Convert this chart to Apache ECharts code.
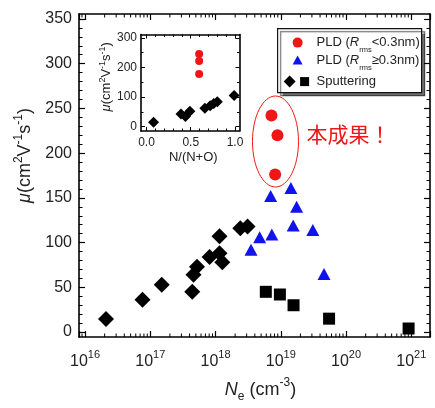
<!DOCTYPE html>
<html>
<head>
<meta charset="utf-8">
<script src="https://cdn.jsdelivr.net/npm/echarts@6/dist/echarts.min.js"></script>
<style>
html, body { margin: 0; padding: 0; background: #fff; }
#chart { width: 435px; height: 408px; }
</style>
</head>
<body>
<div id="chart"></div>
<script>
// main plot: Ne (cm^-3) vs mobility (cm2/Vs)
var pldLowNe = [7.2e18, 8.9e18, 8.2e18];
var pldLowMu = [242, 220, 176];
var pldHighNe = [3.5e18, 4.75e18, 7.3e18, 7.0e18, 1.43e19, 1.75e19, 1.55e19, 3.1e19, 4.6e19];
var pldHighMu = [92, 106, 109, 152, 161, 140, 119, 114, 65];
var sputDiaNe = [2.1e16, 7.6e16, 1.5e17, 4.4e17, 4.6e17, 5.2e17, 8.1e17, 1.15e18, 1.15e18, 1.27e18, 2.4e18, 3.1e18];
var sputDiaMu = [14.5, 36, 53, 45, 64, 73, 84, 107, 88, 78, 116, 118];
var sputSqNe = [5.9e18, 9.7e18, 1.57e19, 5.5e19, 9.1e20];
var sputSqMu = [45, 42, 30, 15, 4];

// inset: N/(N+O) vs mobility
var insetSputX = [0.08, 0.39, 0.44, 0.49, 0.66, 0.72, 0.76, 0.80, 0.99];
var insetSputMu = [15, 43, 34, 52, 62, 71, 78, 84, 105];
var insetPldX = [0.595, 0.595, 0.595];
var insetPldMu = [245, 222, 178];

// annotation anchor (centre of the red ellipse)
var noteNe = [8.3e18];
var noteMu = [213];
var noteText = '本成果！';

// ticks
var xDecades = [16, 17, 18, 19, 20, 21];
var xMinorFactors = [2, 3, 4, 5, 6, 7, 8, 9];
var yMajor = [0, 50, 100, 150, 200, 250, 300, 350];
var yMinor = [10, 20, 30, 40, 60, 70, 80, 90, 110, 120, 130, 140, 160, 170, 180, 190,
  210, 220, 230, 240, 260, 270, 280, 290, 310, 320, 330, 340];
var insetXMajor = [0, 0.5, 1.0];
var insetXMinor = [0.1, 0.2, 0.3, 0.4, 0.6, 0.7, 0.8, 0.9];
var insetYMajor = [0, 100, 200, 300];
var insetYMinor = [50, 150, 250];

var X_MIN = Math.pow(10, 15.908), X_MAX = Math.pow(10, 21.287);
var Y_MIN = -5.5, Y_MAX = 355.5;
var RED = '#f01616', BLUE = '#1212ea', INK = '#222';
var FONT = 'Liberation Sans';

function pairs(xs, ys) {
  return xs.map(function (x, i) { return [x, ys[i]]; });
}

// minor tick positions on the log axis, only those inside the range
var xMinorTicks = [];
[15].concat(xDecades).forEach(function (d) {
  xMinorFactors.forEach(function (f) {
    var v = f * Math.pow(10, d);
    if (v > X_MIN && v < X_MAX) xMinorTicks.push([v, 0]);
  });
});

var axisLineStyle = { show: true, onZero: false, lineStyle: { color: '#000', width: 1.6 } };
var noLine = { show: false, onZero: false };

function tickAxis(opt) {
  var a = {
    splitLine: { show: false },
    minorTick: { show: false },
    axisLine: opt.line ? axisLineStyle : noLine,
    axisTick: {
      show: true, inside: true, length: opt.len,
      lineStyle: { color: '#000', width: opt.len > 4 ? 1.2 : 1 }
    },
    axisLabel: { show: false }
  };
  if (opt.ticks) a.axisTick.customValues = opt.ticks;
  delete opt.line; delete opt.len; delete opt.ticks;
  for (var k in opt) a[k] = opt[k];
  return a;
}

var supRich = {
  n: { fontFamily: FONT, fontSize: 18, color: INK, lineHeight: 26 },
  i: { fontFamily: FONT, fontSize: 18, fontStyle: 'italic', color: INK, lineHeight: 26 },
  sup: { fontFamily: FONT, fontSize: 12, color: INK, lineHeight: 12, verticalAlign: 'top' },
  sub: { fontFamily: FONT, fontSize: 12, color: INK, lineHeight: 12, verticalAlign: 'bottom' }
};
var insetRich = {
  n: { fontFamily: FONT, fontSize: 13, color: INK, lineHeight: 18 },
  i: { fontFamily: FONT, fontSize: 13, fontStyle: 'italic', color: INK, lineHeight: 18 },
  sup: { fontFamily: FONT, fontSize: 9, color: INK, lineHeight: 9, verticalAlign: 'top' }
};

var chart = echarts.init(document.getElementById('chart'));

chart.setOption({
  animation: false,
  grid: [
    { left: 79, top: 14, width: 351, height: 331 },
    { left: 141, top: 34.5, width: 98.5, height: 96.5, show: true, backgroundColor: '#fff', borderWidth: 0 }
  ],
  xAxis: [
    tickAxis({
      type: 'log', gridIndex: 0, position: 'bottom', min: X_MIN, max: X_MAX, line: true, len: 6,
      axisLabel: {
        show: true, margin: 12,
        formatter: function (v) {
          var e = Math.log10(v);
          if (Math.abs(e - Math.round(e)) > 1e-6) return '';
          return '{b|10}{s|' + Math.round(e) + '}';
        },
        rich: {
          b: { fontFamily: FONT, fontSize: 16, color: INK, lineHeight: 26 },
          s: { fontFamily: FONT, fontSize: 11, color: INK, lineHeight: 10, verticalAlign: 'top' }
        }
      },
      name: '{i|N}{sub|e}{n| (cm}{sup|-3}{n|)}',
      nameLocation: 'middle', nameGap: 40,
      nameTextStyle: { rich: supRich, padding: [0, 0, 0, 12] }
    }),
    tickAxis({ type: 'log', gridIndex: 0, position: 'top', min: X_MIN, max: X_MAX, line: true, len: 6 }),
    tickAxis({
      type: 'value', gridIndex: 1, position: 'bottom', min: -0.062, max: 1.051, line: true, len: 4,
      ticks: insetXMajor,
      axisLabel: {
        show: true, customValues: insetXMajor, margin: 6,
        fontFamily: FONT, fontSize: 12, color: INK,
        formatter: function (v) { return v.toFixed(1); }
      },
      name: 'N/(N+O)', nameLocation: 'middle', nameGap: 20,
      nameTextStyle: { fontFamily: FONT, fontSize: 13, color: INK, padding: [0, 0, 0, 6] }
    }),
    tickAxis({ type: 'value', gridIndex: 1, position: 'bottom', min: -0.062, max: 1.051, len: 2.5, ticks: insetXMinor }),
    tickAxis({ type: 'value', gridIndex: 1, position: 'top', min: -0.062, max: 1.051, line: true, len: 4, ticks: insetXMajor }),
    tickAxis({ type: 'value', gridIndex: 1, position: 'top', min: -0.062, max: 1.051, len: 2.5, ticks: insetXMinor })
  ],
  yAxis: [
    tickAxis({
      type: 'value', gridIndex: 0, position: 'left', min: Y_MIN, max: Y_MAX, line: true, len: 6,
      ticks: yMajor,
      axisLabel: { show: true, customValues: yMajor, margin: 7, fontFamily: FONT, fontSize: 16, color: INK },
      name: '{i|μ}{n|(cm}{sup|2}{n|V}{sup|-1}{n|s}{sup|-1}{n|)}',
      nameLocation: 'middle', nameRotate: 90, nameGap: 37,
      nameTextStyle: { rich: supRich, padding: [0, 0, 0, 40] }
    }),
    tickAxis({ type: 'value', gridIndex: 0, position: 'left', min: Y_MIN, max: Y_MAX, len: 3.5, ticks: yMinor }),
    tickAxis({ type: 'value', gridIndex: 0, position: 'right', min: Y_MIN, max: Y_MAX, line: true, len: 6, ticks: yMajor }),
    tickAxis({ type: 'value', gridIndex: 0, position: 'right', min: Y_MIN, max: Y_MAX, len: 3.5, ticks: yMinor }),
    tickAxis({
      type: 'value', gridIndex: 1, position: 'left', min: -14.5, max: 311, line: true, len: 4,
      ticks: insetYMajor,
      axisLabel: { show: true, customValues: insetYMajor, margin: 4, fontFamily: FONT, fontSize: 12, color: INK },
      name: '{i|μ}{n|(cm}{sup|2}{n|V}{sup|-1}{n|s}{sup|-1}{n|)}',
      nameLocation: 'middle', nameRotate: 90, nameGap: 22,
      nameTextStyle: { rich: insetRich, padding: [0, 0, 0, 12] }
    }),
    tickAxis({ type: 'value', gridIndex: 1, position: 'left', min: -14.5, max: 311, len: 2.5, ticks: insetYMinor }),
    tickAxis({ type: 'value', gridIndex: 1, position: 'right', min: -14.5, max: 311, line: true, len: 4, ticks: insetYMajor }),
    tickAxis({ type: 'value', gridIndex: 1, position: 'right', min: -14.5, max: 311, len: 2.5, ticks: insetYMinor })
  ],
  series: [
    {
      // log minor ticks, bottom and top edges
      type: 'custom', xAxisIndex: 0, yAxisIndex: 0, silent: true, clip: false, z: 1,
      data: xMinorTicks,
      renderItem: function (params, api) {
        var b = api.coord([api.value(0), Y_MIN]);
        var t = api.coord([api.value(0), Y_MAX]);
        var st = { stroke: '#000', lineWidth: 1 };
        return {
          type: 'group', children: [
            { type: 'line', shape: { x1: b[0], y1: b[1], x2: b[0], y2: b[1] - 3.5 }, style: st },
            { type: 'line', shape: { x1: t[0], y1: t[1], x2: t[0], y2: t[1] + 3.5 }, style: st }
          ]
        };
      }
    },
    {
      type: 'custom', xAxisIndex: 0, yAxisIndex: 0, silent: true, clip: false, z: 1,
      data: pairs(noteNe, noteMu),
      renderItem: function (params, api) {
        var c = api.coord([api.value(0), api.value(1)]);
        return {
          type: 'group', children: [
            { type: 'ellipse', shape: { cx: c[0], cy: c[1], rx: 23, ry: 45.5 }, style: { fill: 'none', stroke: RED, lineWidth: 1 } },
            {
              type: 'text', x: c[0] + 31, y: c[1] - 7,
              style: { text: noteText, fill: RED, fontSize: 21, fontFamily: 'Noto Sans CJK JP', verticalAlign: 'middle' }
            }
          ]
        };
      }
    },
    { type: 'scatter', name: 'Sputtering', xAxisIndex: 0, yAxisIndex: 0, symbol: 'diamond', symbolSize: 16,
      itemStyle: { color: '#000', opacity: 1 }, data: pairs(sputDiaNe, sputDiaMu) },
    { type: 'scatter', name: 'Sputtering', xAxisIndex: 0, yAxisIndex: 0, symbol: 'rect', symbolSize: 12,
      itemStyle: { color: '#000', opacity: 1 }, data: pairs(sputSqNe, sputSqMu) },
    { type: 'scatter', name: 'PLD (Rrms≥0.3nm)', xAxisIndex: 0, yAxisIndex: 0, symbol: 'triangle', symbolSize: [13, 12],
      itemStyle: { color: BLUE, opacity: 1 }, data: pairs(pldHighNe, pldHighMu) },
    { type: 'scatter', name: 'PLD (Rrms<0.3nm)', xAxisIndex: 0, yAxisIndex: 0, symbol: 'circle', symbolSize: 12, z: 3,
      itemStyle: { color: RED, opacity: 1 }, data: pairs(pldLowNe, pldLowMu) },
    { type: 'scatter', name: 'inset sputtering', xAxisIndex: 2, yAxisIndex: 4, symbol: 'diamond', symbolSize: 11,
      itemStyle: { color: '#000', opacity: 1 }, data: pairs(insetSputX, insetSputMu) },
    { type: 'scatter', name: 'inset PLD', xAxisIndex: 2, yAxisIndex: 4, symbol: 'circle', symbolSize: 8,
      itemStyle: { color: RED, opacity: 1 }, data: pairs(insetPldX, insetPldMu) }
  ],
  graphic: [{
    type: 'group', left: 277, top: 28, z: 10,
    children: [
      { type: 'rect', shape: { x: 0, y: 0, width: 144, height: 64 },
        style: { fill: '#fff', stroke: '#111', lineWidth: 1.2, shadowColor: 'rgba(0,0,0,0.55)', shadowOffsetX: 3, shadowOffsetY: 3, shadowBlur: 1 } },
      { type: 'circle', shape: { cx: 20, cy: 14, r: 5 }, style: { fill: RED } },
      { type: 'polygon', shape: { points: [[15, 36], [20, 27], [25, 36]] }, style: { fill: BLUE } },
      { type: 'polygon', shape: { points: [[6, 53], [12, 47], [18, 53], [12, 59]] }, style: { fill: '#000' } },
      { type: 'rect', shape: { x: 22.5, y: 48.5, width: 9, height: 9 }, style: { fill: '#000' } },
      { type: 'text', x: 39, y: 14, style: { text: '{n|PLD (}{i|R}{sub|rms}{n|<0.3nm)}', verticalAlign: 'middle', rich: {
        n: { fontFamily: FONT, fontSize: 13, fill: INK, lineHeight: 22 },
        i: { fontFamily: FONT, fontSize: 13, fontStyle: 'italic', fill: INK, lineHeight: 22 },
        sub: { fontFamily: FONT, fontSize: 7.5, fill: INK, lineHeight: 6, verticalAlign: 'bottom' } } } },
      { type: 'text', x: 39, y: 32, style: { text: '{n|PLD (}{i|R}{sub|rms}{n|≥0.3nm)}', verticalAlign: 'middle', rich: {
        n: { fontFamily: FONT, fontSize: 13, fill: INK, lineHeight: 22 },
        i: { fontFamily: FONT, fontSize: 13, fontStyle: 'italic', fill: INK, lineHeight: 22 },
        sub: { fontFamily: FONT, fontSize: 7.5, fill: INK, lineHeight: 6, verticalAlign: 'bottom' } } } },
      { type: 'text', x: 39, y: 53, style: { text: 'Sputtering', verticalAlign: 'middle', fontFamily: FONT, fontSize: 13, fill: INK } }
    ]
  }]
});
</script>
</body>
</html>
